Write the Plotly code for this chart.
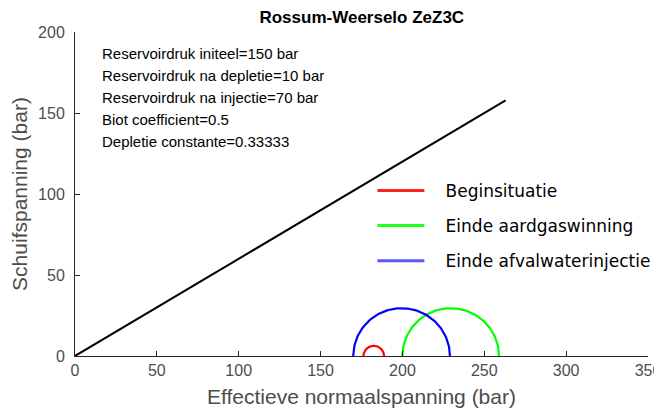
import numpy as np
import plotly.graph_objects as go

# Mohr circles: centre and radius (bar)
circle_names = ["Beginsituatie", "Einde aardgaswinning", "Einde afvalwaterinjectie"]
circle_centers = [182.5, 229.5, 199.5]
circle_radii = [6.3, 29.5, 29.5]
circle_colors = ["#ff0000", "#00ff00", "#0000ff"]
legend_colors = ["#ff2020", "#20ff20", "#5a5aff"]

# failure envelope
line_x = [0, 263]
line_y = [0, 157.8]

info_lines = [
    "Reservoirdruk initeel=150 bar",
    "Reservoirdruk na depletie=10 bar",
    "Reservoirdruk na injectie=70 bar",
    "Biot coefficient=0.5",
    "Depletie constante=0.33333",
]

fig = go.Figure()

fig.add_trace(go.Scatter(
    x=line_x, y=line_y, mode="lines",
    line=dict(color="black", width=2), showlegend=False, hoverinfo="skip",
))

theta = np.linspace(0, np.pi, 120)
for c, r, col in zip(circle_centers, circle_radii, circle_colors):
    fig.add_trace(go.Scatter(
        x=c + r * np.cos(theta), y=r * np.sin(theta),
        mode="lines", line=dict(color=col, width=2.2),
        showlegend=False, hoverinfo="skip",
    ))

# legend-only entries (thicker, like the original legend samples)
pad = "\u00a0" * 3
for i, (name, col) in enumerate(zip(circle_names, legend_colors)):
    fig.add_trace(go.Scatter(
        x=[None], y=[None], mode="lines", line=dict(color=col, width=3),
        name=pad + name, legendgroup=f"g{i}",
    ))

tick_font = dict(family="Liberation Sans, Arial", size=16, color="#4d4d4d")
label_font = dict(family="Liberation Sans, Arial", size=21, color="#4d4d4d")

fig.update_layout(
    width=654, height=400,
    margin=dict(l=67, r=14, t=24, b=52, autoexpand=False),
    plot_bgcolor="white", paper_bgcolor="white",
    title=dict(
        text="<b>Rossum-Weerselo ZeZ3C</b>", x=0.541, xanchor="center",
        y=0.977, yanchor="middle",
        font=dict(family="Liberation Sans, Arial", size=17, color="black"),
    ),
    xaxis=dict(
        range=[0, 350], dtick=50, showgrid=False, zeroline=False,
        showline=True, linecolor="#262626", linewidth=1,
        ticks="inside", ticklen=5, tickcolor="#262626",
        tickfont=tick_font, automargin=False, ticklabeloverflow="allow",
        title=dict(text="Effectieve normaalspanning (bar)", standoff=17, font=label_font),
    ),
    yaxis=dict(
        range=[0, 200], dtick=50, showgrid=False, zeroline=False,
        showline=True, linecolor="#262626", linewidth=1,
        ticks="inside", ticklen=5, tickcolor="#262626",
        tickfont=tick_font, automargin=False, ticklabelstandoff=6,
        title=dict(text="Schuifspanning (bar)", standoff=10, font=label_font),
    ),
    legend=dict(
        x=0.519, y=0.565, xanchor="left", yanchor="top",
        bgcolor="rgba(0,0,0,0)", tracegroupgap=10, itemwidth=47,
        font=dict(family="DejaVu Sans, Verdana", size=17, color="black"),
    ),
)

for k, txt in enumerate(info_lines):
    fig.add_annotation(
        x=15.5, y=187 - k * 13.6, xref="x", yref="y", text=txt,
        showarrow=False, xanchor="left", yanchor="middle",
        font=dict(family="Liberation Sans, Arial", size=15, color="black"),
    )

fig.write_html("out.html")
